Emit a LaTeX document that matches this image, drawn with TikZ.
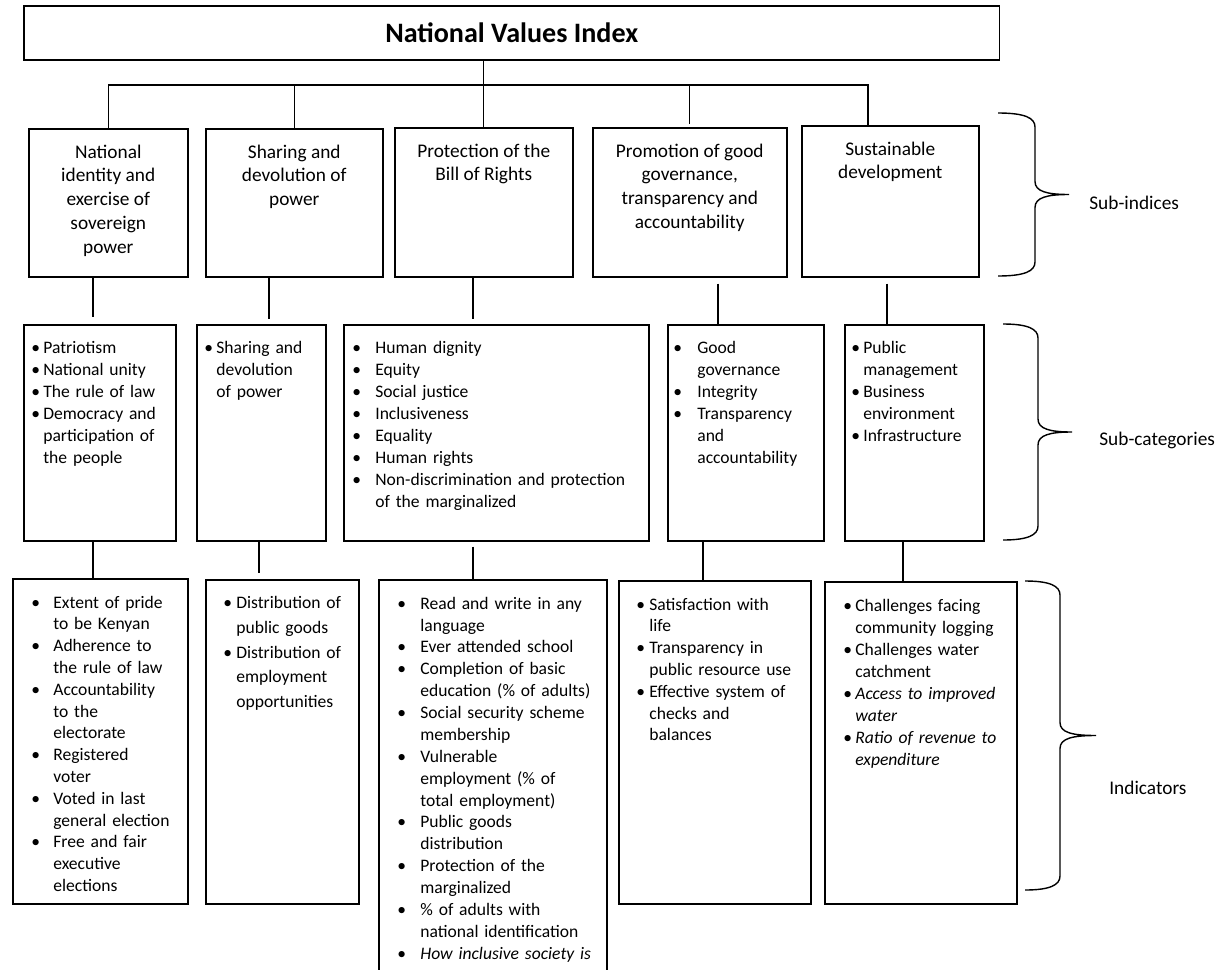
\documentclass[tikz,border=0pt]{standalone}
\usepackage{fontspec}
\setmainfont{Carlito}
\usetikzlibrary{positioning}
\newlength{\bind}
\newcommand{\bitem}[1]{\par\noindent\makebox[\bind][l]{\textbullet}%
  \parbox[t]{\dimexpr\hsize-\bind\relax}{\raggedright\strut#1\strut}}
% curly brace: x, top, bottom, stem x, tip x
\newcommand{\curly}[5]{%
  \draw[link] (#1,#2) .. controls ({#4-10},#2) and (#4,{#2+5}) .. (#4,{#2+14})
    -- (#4,{(#2+#3)/2-13}) .. controls (#4,{(#2+#3)/2-3}) and ({#4+12},{(#2+#3)/2}) .. (#5,{(#2+#3)/2})
    .. controls ({#4+12},{(#2+#3)/2}) and (#4,{(#2+#3)/2+3}) .. (#4,{(#2+#3)/2+13})
    -- (#4,{#3-14}) .. controls (#4,{#3-5}) and ({#4-10},#3) .. (#1,#3);}

\begin{document}
\begin{tikzpicture}[x=0.02cm,y=-0.02cm,
    box/.style={draw, line width=0.9pt, inner sep=0pt, anchor=north west},
    link/.style={line width=0.8pt},
    head/.style={align=center, inner sep=0pt, font=\fontsize{11}{13.6}\selectfont},
    lst/.style={inner sep=0pt, anchor=north west, font=\fontsize{10}{12.5}\selectfont,
      execute at begin node={\setlength{\bind}{#1}\lineskip=0pt\lineskiplimit=0pt}},
    side/.style={anchor=west, inner sep=0pt, font=\fontsize{11}{13.6}\selectfont}]
  \useasboundingbox (0,0) rectangle (1231,970);

  % index
  \node[box, minimum width=19.52cm, minimum height=1.08cm,
    font=\fontsize{16}{19}\selectfont\bfseries] (nvi) at (23,5) {National Values Index};

  % sub-indices
  \node[box, minimum width=3.18cm, minimum height=2.96cm] (si1) at (28,128) {};
  \node[box, minimum width=3.54cm, minimum height=2.96cm] (si2) at (205,128) {};
  \node[box, minimum width=3.56cm, minimum height=2.98cm] (si3) at (394,127) {};
  \node[box, minimum width=3.88cm, minimum height=2.98cm] (si4) at (592,127) {};
  \node[box, minimum width=3.54cm, minimum height=3.02cm] (si5) at (801,125) {};

  \node[head, below=0.26cm of si1.north] (si1t) {\strut National\\identity and\\exercise of\\sovereign\\power};
  \node[head, below=0.26cm of si2.north] (si2t) {\strut Sharing and\\devolution of\\power};
  \node[head, below=0.26cm of si3.north] (si3t) {\strut Protection of the\\Bill of Rights};
  \node[head, below=0.26cm of si4.north] (si4t) {\strut Promotion of good\\governance,\\transparency and\\accountability};
  \node[head, below=0.26cm of si5.north] (si5t) {\strut Sustainable\\development};

  % sub-categories
  \node[box, minimum width=3.04cm, minimum height=4.32cm] (sc1) at (23,324) {};
  \node[box, minimum width=2.58cm, minimum height=4.32cm] (sc2) at (196,324) {};
  \node[box, minimum width=6.10cm, minimum height=4.32cm] (sc3) at (343,324) {};
  \node[box, minimum width=3.12cm, minimum height=4.32cm] (sc4) at (667,324) {};
  \node[box, minimum width=2.78cm, minimum height=4.32cm] (sc5) at (844,324) {};

  \node[lst=0.24cm, text width=2.8cm, below right=0.14cm and 0.16cm of sc1.north west] (sc1t)
    {\bitem{Patriotism}\bitem{National unity}\bitem{The rule of law}\bitem{Democracy and\\participation of\\the people}};
  \node[lst=0.24cm, text width=2.35cm, below right=0.14cm and 0.16cm of sc2.north west] (sc2t)
    {\bitem{Sharing and\\devolution\\of power}};
  \node[lst=0.46cm, text width=5.8cm, below right=0.14cm and 0.18cm of sc3.north west] (sc3t)
    {\bitem{Human dignity}\bitem{Equity}\bitem{Social justice}\bitem{Inclusiveness}\bitem{Equality}%
     \bitem{Human rights}\bitem{Non-discrimination and protection\\of the marginalized}};
  \node[lst=0.48cm, text width=2.9cm, below right=0.14cm and 0.12cm of sc4.north west] (sc4t)
    {\bitem{Good\\governance}\bitem{Integrity}\bitem{Transparency\\and\\accountability}};
  \node[lst=0.24cm, text width=2.55cm, below right=0.14cm and 0.14cm of sc5.north west] (sc5t)
    {\bitem{Public\\management}\bitem{Business\\environment}\bitem{Infrastructure}};

  % indicators
  \node[box, minimum width=3.50cm, minimum height=6.50cm] (in1) at (12,578) {};
  \node[box, minimum width=3.06cm, minimum height=6.48cm] (in2) at (205,579) {};
  \node[box, minimum width=4.56cm, minimum height=8.20cm] (in3) at (378,579) {};
  \node[box, minimum width=3.84cm, minimum height=6.46cm] (in4) at (618,580) {};
  \node[box, minimum width=3.84cm, minimum height=6.44cm] (in5) at (824,581) {};

  \node[lst=0.44cm, text width=3.0cm, font=\fontsize{10}{12.4}\selectfont,
    below right=0.16cm and 0.38cm of in1.north west] (in1t)
    {\bitem{Extent of pride\\to be Kenyan}\bitem{Adherence to\\the rule of law}\bitem{Accountability\\to the\\electorate}%
     \bitem{Registered\\voter}\bitem{Voted in last\\general election}\bitem{Free and fair\\executive\\elections}};
  \node[lst=0.26cm, text width=2.6cm, font=\fontsize{10}{14}\selectfont,
    below right=0.10cm and 0.36cm of in2.north west] (in2t)
    {\bitem{Distribution of\\public goods}\bitem{Distribution of\\employment\\opportunities}};
  \node[lst=0.46cm, text width=4.1cm, font=\fontsize{10}{12.45}\selectfont,
    below right=0.16cm and 0.38cm of in3.north west] (in3t)
    {\bitem{Read and write in any\\language}\bitem{Ever attended school}\bitem{Completion of basic\\education (\% of adults)}%
     \bitem{Social security scheme\\membership}\bitem{Vulnerable\\employment (\% of\\total employment)}%
     \bitem{Public goods\\distribution}\bitem{Protection of the\\marginalized}\bitem{\% of adults with\\national identification}%
     \bitem{\textit{How inclusive society is}}};
  \node[lst=0.26cm, text width=3.4cm, font=\fontsize{10}{12.4}\selectfont,
    below right=0.16cm and 0.36cm of in4.north west] (in4t)
    {\bitem{Satisfaction with\\life}\bitem{Transparency in\\public resource use}\bitem{Effective system of\\checks and\\balances}};
  \node[lst=0.24cm, text width=3.4cm, below right=0.16cm and 0.38cm of in5.north west] (in5t)
    {\bitem{Challenges facing\\community logging}\bitem{Challenges water\\catchment}%
     \bitem{\itshape Access to improved\\water}\bitem{\itshape Ratio of revenue to\\expenditure}};

  % tree links
  \coordinate (d5) at (868,85);
  \draw[link] (si3.north |- nvi.south) -- (si3.north);
  \draw[link] (si1.north) |- (d5) -- (d5 |- si5.north);
  \draw[link] (si2.north) -- (si2.north |- d5);
  \draw[link, shorten >=0.06cm] (si4.north |- d5) -- (si4.north);

  \coordinate (k1) at (93,0);
  \coordinate (k2) at (269,0);
  \coordinate (k3) at (473,0);
  \coordinate (k4) at (718,0);
  \coordinate (k5) at (887,0);
  \draw[link, shorten >=0.14cm] (k1 |- si1.south) -- (k1 |- sc1.north);
  \draw[link, shorten >=0.1cm] (k2 |- si2.south) -- (k2 |- sc2.north);
  \draw[link, shorten >=0.1cm] (k3 |- si3.south) -- (k3 |- sc3.north);
  \draw[link, shorten <=0.12cm] (k4 |- si4.south) -- (k4 |- sc4.north);
  \draw[link, shorten <=0.12cm] (k5 |- si5.south) -- (k5 |- sc5.north);

  \coordinate (m1) at (93,0);
  \coordinate (m2) at (259,0);
  \coordinate (m3) at (473,0);
  \coordinate (m4) at (703,0);
  \coordinate (m5) at (903,0);
  \draw[link] (m1 |- sc1.south) -- (m1 |- in1.north);
  \draw[link, shorten >=0.12cm] (m2 |- sc2.south) -- (m2 |- in2.north);
  \draw[link, shorten <=0.1cm] (m3 |- sc3.south) -- (m3 |- in3.north);
  \draw[link] (m4 |- sc4.south) -- (m4 |- in4.north);
  \draw[link] (m5 |- sc5.south) -- (m5 |- in5.north);

  % braces
  \curly{998}{113}{276}{1035}{1069}
  \curly{1003}{324}{540}{1038}{1072}
  \curly{1025}{581}{890}{1060}{1096}
  \node[side] (lsi) at (1089,203) {Sub-indices};
  \node[side] (lsc) at (1099,440) {Sub-categories};
  \node[side] (lin) at (1109,788) {Indicators};
\end{tikzpicture}
\end{document}
